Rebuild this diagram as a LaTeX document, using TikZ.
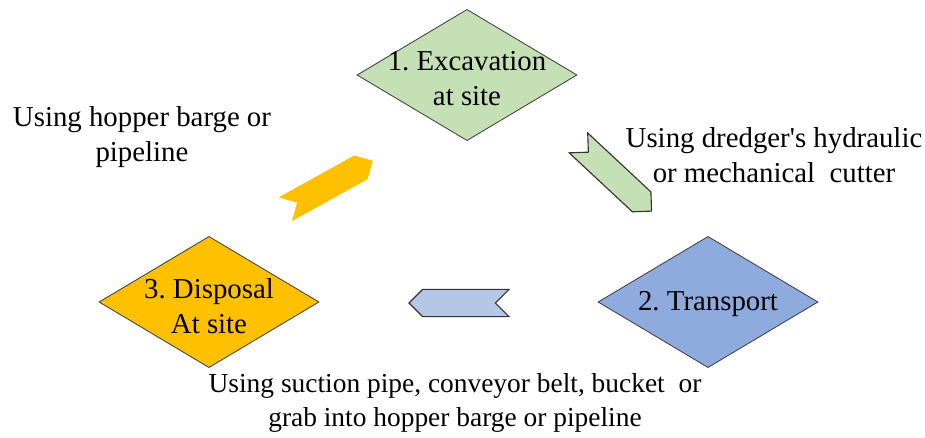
\documentclass[tikz,border=0pt]{standalone}
\usepackage{fontspec}
\setmainfont{Liberation Serif}
\usepackage{xcolor}
\usetikzlibrary{shapes.geometric,shapes.symbols}
\definecolor{stgreen}{HTML}{C5E0B4}
\definecolor{stblue}{HTML}{8FAADC}
\definecolor{storange}{HTML}{FFC000}
\definecolor{arblue}{HTML}{B4C7E7}
\frenchspacing
\begin{document}
\begin{tikzpicture}[x=0.025cm,y=-0.025cm,
        stage/.style={diamond,draw=black!75,line width=0.6pt,minimum width=5.5cm,minimum height=3.28cm,inner sep=0pt},
        chev/.style={signal,signal from=west,signal to=east,minimum width=2.5cm,minimum height=0.68cm,inner sep=0pt},
        txt/.style={align=center,inner sep=0pt,font=\fontsize{20.5}{25}\selectfont}]
        \useasboundingbox (0,0) rectangle (925,437);
        %三个阶段
        \node[stage,fill=stgreen] (exc) at (467,75) {};
        \node[stage,fill=stblue] (trans) at (708,302) {};
        \node[stage,fill=storange] (disp) at (209,302) {};
        \node[txt] (exct) at (467,79) {1. Excavation\\at site};
        \node[txt] (transt) at (708,304) {2. Transport};
        \node[txt] (dispt) at (209,306) {3. Disposal\\At site};
        %箭头
        \node[chev,fill=stgreen,draw=black!80,line width=0.8pt,rotate=-43] (ar1) at (615,177) {};
        \node[chev,fill=arblue,draw=black!80,line width=0.8pt,rotate=180] (ar2) at (459,303) {};
        \node[chev,fill=storange,rotate=29] (ar3) at (329,185) {};
        %说明文字
        \node[txt] (lab1) at (774,155) {Using dredger\textquotesingle s hydraulic\\or mechanical\ \ cutter};
        \node[txt,font=\fontsize{19.5}{24}\selectfont] (lab2) at (455,403) {Using suction pipe, conveyor belt, bucket\ \ or\\grab into hopper barge or pipeline};
        \node[txt] (lab3) at (142,137) {Using hopper barge or\\pipeline};
\end{tikzpicture}
\end{document}
